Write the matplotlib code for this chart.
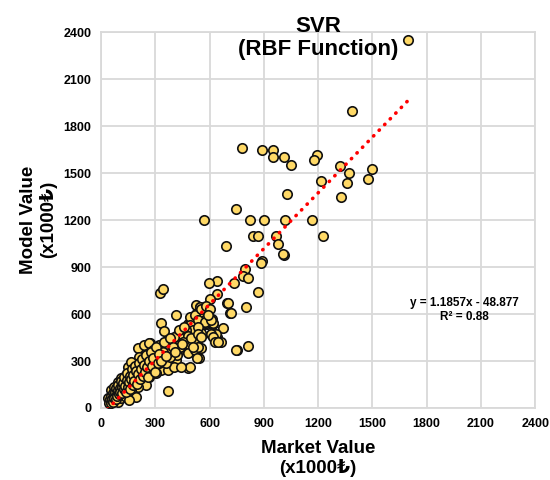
import matplotlib.pyplot as plt
import numpy as np

plt.rcParams['font.family'] = ['Liberation Sans', 'DejaVu Sans']

# Market value vs SVR model value (x1000 TL)
market_value = [
    # sparse upper region
    1696, 1388, 780, 889, 952, 952, 1012, 1047, 1191, 1178, 1320, 1372, 1497, 1478,
    1358, 1216, 1025, 1326, 744, 569, 825, 900, 1016, 1165, 1228, 837, 869, 966,
    977, 690, 1012, 889, 1005, 325, 340,
    # middle band
    885, 795, 785, 813, 733, 642, 596, 865, 640, 600, 696, 715, 800, 673, 749, 813,
    615, 640, 651, 527, 549, 524, 564, 591, 578, 613, 618, 585, 545, 509, 482, 464,
    491, 518, 545, 455, 482, 414, 630, 481, 541,
    # dense lower cluster
    328, 350, 424, 461, 489, 526, 517, 554, 578, 619, 637, 665, 424, 457, 507, 470,
    442, 400, 359, 368, 424, 480, 517, 554, 532, 490, 415, 387, 350, 313, 276, 257,
    220, 202, 239, 270, 211, 239, 294, 331, 368, 405, 442, 359, 322, 276, 302, 265,
    220, 183, 146, 165, 137, 183, 220, 248, 202, 156, 118, 91, 109, 146, 100, 128,
    165, 193, 72, 54, 35, 91, 109, 54, 72, 368, 137, 156,
    489, 517, 544, 554, 581, 600, 702, 718, 535, 572, 609, 591, 489, 507, 535, 470,
    433, 405, 480, 452, 498, 535, 554, 609, 618, 628, 646, 748, 535, 507, 378, 350,
    322, 267, 285, 341, 392, 437, 420, 383, 267, 341,
    42, 48, 52, 55, 58, 61, 64, 67, 70, 73, 77, 80, 83, 85, 89, 93, 95, 98, 102, 106,
    108, 113, 117, 120, 124, 127, 133, 135, 141, 144, 148, 153, 157, 162, 164, 170,
    174, 177, 184, 188, 193, 197, 203, 207, 213, 218, 224, 229, 234, 243, 247, 253,
    259, 266, 273, 281, 288, 296, 305, 314, 318, 330, 345, 360, 380, 395, 410, 430,
    445, 460,
]
model_value = [
    2353, 1898, 1660, 1648, 1648, 1600, 1600, 1550, 1614, 1583, 1547, 1500, 1529, 1464,
    1438, 1449, 1367, 1348, 1272, 1198, 1198, 1198, 1198, 1200, 1098, 1096, 1096, 1096,
    1047, 1036, 980, 936, 984, 735, 758,
    928, 885, 844, 831, 801, 814, 799, 739, 726, 699, 671, 606, 643, 512, 373, 394,
    463, 452, 424, 656, 645, 602, 602, 624, 570, 570, 538, 538, 506, 527, 538, 495,
    452, 441, 474, 420, 399, 594, 466, 255, 319,
    545, 494, 472, 498, 536, 551, 509, 481, 540, 540, 472, 423, 430, 455, 466, 402,
    392, 392, 402, 360, 360, 349, 370, 381, 317, 260, 306, 338, 349, 328, 296, 349,
    381, 381, 402, 413, 328, 285, 264, 243, 243, 264, 264, 285, 285, 243, 221, 200,
    221, 243, 264, 296, 211, 189, 168, 147, 136, 136, 136, 168, 189, 168, 104, 94,
    115, 72, 72, 51, 62, 40, 62, 115, 136, 108, 72, 51,
    581, 592, 645, 634, 649, 634, 670, 606, 560, 549, 560, 592, 528, 501, 518, 496,
    465, 454, 458, 423, 444, 475, 454, 475, 454, 423, 423, 370, 391, 391, 412, 391,
    401, 412, 370, 359, 370, 391, 338, 328, 349, 317,
    35, 58, 30, 74, 49, 60, 96, 41, 83, 66, 105, 57, 128, 92, 74, 117, 150, 88, 126, 104,
    171, 136, 96, 158, 119, 196, 142, 103, 177, 222, 131, 167, 205, 121, 186, 247,
    149, 208, 173, 268, 236, 151, 214, 289, 186, 250, 311, 203, 275, 233, 340, 262,
    198, 300, 355, 268, 321, 230, 389, 286, 347, 300, 420, 331, 445, 388, 355, 500,
    410, 520,
]

# trendline shown on the chart
slope, intercept = 1.1857, -48.877
axis_ticks = [0, 300, 600, 900, 1200, 1500, 1800, 2100, 2400]

fig = plt.figure(figsize=(5.5, 4.8), dpi=100)
ax = fig.add_axes([0.184, 0.15, 0.789, 0.783])

ax.scatter(market_value, model_value, s=46, facecolor='#FFD966', edgecolor='#111111',
           linewidth=1.2, zorder=3)

x_line = np.array([min(market_value), max(market_value)])
ax.plot(x_line, slope * x_line + intercept, color='#FF0000', linewidth=2.6,
        linestyle=(0, (0.1, 2.1)), dash_capstyle='round', zorder=4)

ax.set_xlim(0, 2400)
ax.set_ylim(0, 2400)
ax.set_xticks(axis_ticks)
ax.set_yticks(axis_ticks)
ax.tick_params(length=0, labelsize=9, pad=7)
for lab in ax.get_xticklabels() + ax.get_yticklabels():
    lab.set_fontweight('bold')

ax.grid(True, color='#D9D9D9', linewidth=1.3, zorder=0)
ax.set_axisbelow(True)
for sp in ax.spines.values():
    sp.set_color('#D9D9D9')
    sp.set_linewidth(1.3)

# title sits partly inside the plot area
ax.text(0.5, 1.043, 'SVR\n(RBF Function)', transform=ax.transAxes, ha='center', va='top',
        fontsize=16, fontweight='bold', linespacing=1.1)

fig.text(0.578, 0.045, 'Market Value\n(x1000₺)', ha='center', va='center',
         fontsize=13.5, fontweight='bold', linespacing=1.15)
fig.text(0.07, 0.542, 'Model Value\n(x1000₺)', ha='center', va='center', rotation=90,
         fontsize=13.5, fontweight='bold', linespacing=1.15)

ax.text(2010, 626, 'y = 1.1857x - 48.877\nR² = 0.88', ha='center', va='center',
        fontsize=8.5, fontweight='bold', linespacing=1.2)

fig.savefig('out.png', dpi=100)
